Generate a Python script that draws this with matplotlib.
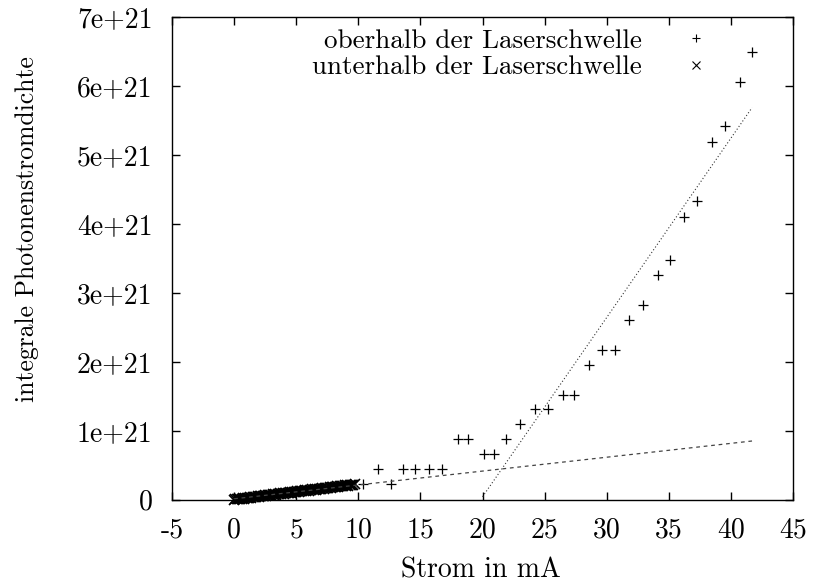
import numpy as np
import matplotlib
matplotlib.use("Agg")
import matplotlib.pyplot as plt

plt.rcParams['font.family'] = ['cmr10', 'DejaVu Serif']
plt.rcParams['axes.unicode_minus'] = False
plt.rcParams['mathtext.fontset'] = 'cm'

SCALE = 1e21
FS = 20

# Messwerte oberhalb der Laserschwelle (Strom in mA, Photonenstromdichte in 1e21)
strom_oben = [10.35, 11.6, 12.6, 13.6, 14.6, 15.7, 16.7, 18.0, 18.8, 20.1,
              20.9, 21.9, 23.0, 24.2, 25.3, 26.5, 27.4, 28.6, 29.6, 30.7,
              31.8, 32.9, 34.1, 35.1, 36.2, 37.3, 38.5, 39.5, 40.7, 41.7]
dichte_oben = [0.22, 0.44, 0.22, 0.44, 0.44, 0.44, 0.44, 0.88, 0.88, 0.66,
               0.66, 0.88, 1.09, 1.31, 1.31, 1.52, 1.52, 1.95, 2.17, 2.17,
               2.60, 2.82, 3.25, 3.47, 4.10, 4.33, 5.19, 5.41, 6.05, 6.49]

# Messwerte unterhalb der Laserschwelle
strom_unten = [0.0, 0.1, 0.2, 0.3, 0.4, 0.5, 0.6, 0.7, 0.8, 0.9,
               1.0, 1.1, 1.2, 1.3, 1.4, 1.5, 1.6, 1.7, 1.8, 1.9,
               2.0, 2.1, 2.2, 2.3, 2.4, 2.5, 2.6, 2.7, 2.8, 2.9,
               3.0, 3.1, 3.2, 3.3, 3.4, 3.5, 3.6, 3.7, 3.8, 3.9,
               4.0, 4.1, 4.2, 4.3, 4.4, 4.5, 4.6, 4.7, 4.8, 4.9,
               5.0, 5.1, 5.2, 5.3, 5.4, 5.5, 5.6, 5.7, 5.8, 5.9,
               6.0, 6.1, 6.2, 6.3, 6.4, 6.5, 6.6, 6.7, 6.8, 6.9,
               7.0, 7.1, 7.2, 7.3, 7.4, 7.5, 7.6, 7.7, 7.8, 7.9,
               8.0, 8.1, 8.2, 8.3, 8.4, 8.5, 8.6, 8.7, 8.8, 8.9,
               9.0, 9.1, 9.2, 9.3, 9.4, 9.5, 9.6, 9.7]
dichte_unten = [0.000, 0.006, 0.002, 0.010, 0.005, 0.014, 0.009, 0.019, 0.013, 0.024,
                0.018, 0.028, 0.022, 0.033, 0.027, 0.037, 0.031, 0.042, 0.036, 0.046,
                0.040, 0.051, 0.045, 0.055, 0.049, 0.060, 0.054, 0.064, 0.058, 0.069,
                0.063, 0.073, 0.067, 0.078, 0.072, 0.082, 0.076, 0.087, 0.081, 0.091,
                0.085, 0.096, 0.090, 0.100, 0.094, 0.105, 0.099, 0.109, 0.103, 0.114,
                0.108, 0.118, 0.112, 0.123, 0.117, 0.127, 0.121, 0.132, 0.126, 0.136,
                0.130, 0.141, 0.135, 0.145, 0.139, 0.150, 0.144, 0.154, 0.148, 0.159,
                0.153, 0.163, 0.157, 0.168, 0.162, 0.172, 0.166, 0.177, 0.171, 0.181,
                0.175, 0.186, 0.180, 0.190, 0.184, 0.195, 0.189, 0.199, 0.193, 0.204,
                0.198, 0.208, 0.202, 0.213, 0.207, 0.217, 0.211, 0.220]

# Ausgleichsgeraden: Steigung, Achsenabschnitt, Bereich
fit_unten = (0.0201, 0.01, 0.0, 41.7)
fit_oben = (0.26, -5.161, 20.0, 41.7)

xticks = [-5, 0, 5, 10, 15, 20, 25, 30, 35, 40, 45]
yticks = [0, 1, 2, 3, 4, 5, 6, 7]
ytick_labels = ['0', '1e+21', '2e+21', '3e+21', '4e+21', '5e+21', '6e+21', '7e+21']

fig = plt.figure(figsize=(8.15, 5.84), dpi=100)
ax = fig.add_axes([172 / 815, 1 - 499.5 / 584, 621 / 815, 482.8 / 584])

ax.plot(strom_oben, np.array(dichte_oben) * SCALE, linestyle='none', marker='+',
        markersize=7, mew=0.9, color='black', label='oberhalb der Laserschwelle')
ax.plot(strom_unten, np.array(dichte_unten) * SCALE, linestyle='none', marker='x',
        markersize=7, mew=1.2, color='black', clip_on=False,
        label='unterhalb der Laserschwelle')

m, b, x0, x1 = fit_unten
xs = np.array([x0, x1])
ax.plot(xs, (m * xs + b) * SCALE, color='#444444', lw=0.9, dashes=(3, 3))
m, b, x0, x1 = fit_oben
xs = np.array([x0, x1])
ax.plot(xs, (m * xs + b) * SCALE, color='#333333', lw=0.8, linestyle=(0, (1, 2)))

ax.set_xlim(-5, 45)
ax.set_ylim(0, 7 * SCALE)
ax.set_xticks(xticks)
ax.set_xticklabels([str(t) for t in xticks])
ax.set_yticks([t * SCALE for t in yticks])
ax.set_yticklabels(ytick_labels)
ax.tick_params(direction='in', length=6, width=1, top=True, right=True,
               labelsize=FS)
ax.tick_params(axis='y', pad=14)
ax.tick_params(axis='x', pad=13)
for s in ax.spines.values():
    s.set_linewidth(1)

fig.text(27 / 815, 1 - 229 / 584, 'integrale Photonenstromdichte', rotation=90,
         ha='center', va='center', fontsize=18.5)
fig.text(481 / 815, 1 - 570 / 584, 'Strom in mA', ha='center', va='center',
         fontsize=FS)

leg = ax.legend(loc='upper right', bbox_to_anchor=(0.865, 0.975), markerfirst=False,
                frameon=False, fontsize=19.5, handlelength=1, handletextpad=1.5,
                borderpad=0, labelspacing=0.1, borderaxespad=0)
for h in leg.legend_handles:
    h.set_markersize(6)
    h.set_markeredgewidth(0.8)

fig.savefig('out.png', dpi=100)
